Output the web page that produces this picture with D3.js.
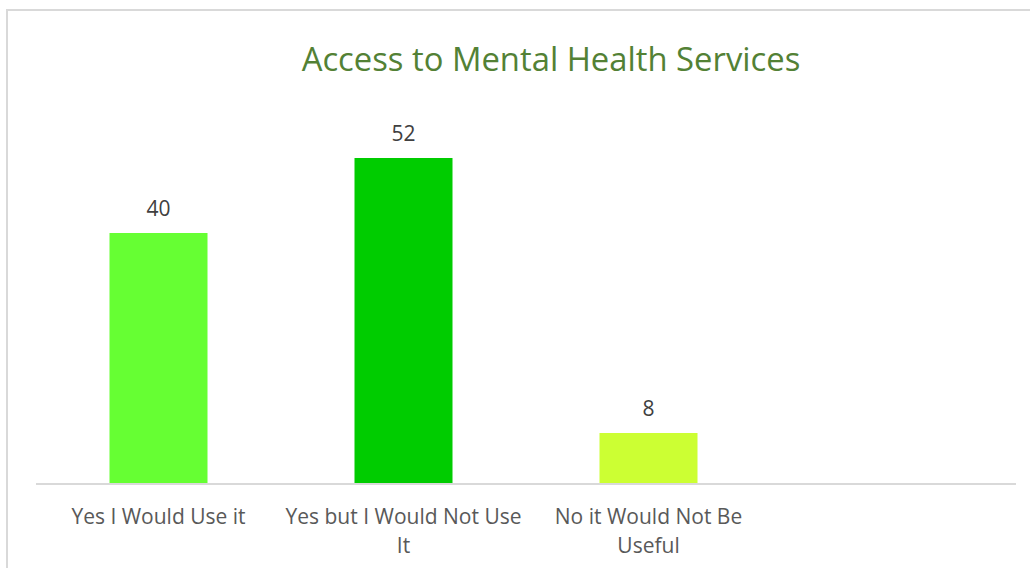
<!DOCTYPE html>
<html>
<head>
<meta charset="utf-8">
<script src="https://cdn.jsdelivr.net/npm/d3@7"></script>
<style>
  body { margin: 0; background: #fff; }
  text { font-family: "Open Sans", sans-serif; }
</style>
</head>
<body>
<div id="chart"></div>
<script>
// data
var categories = ["Yes I Would Use it", "Yes but I Would Not Use It", "No it Would Not Be Useful", ""];
var tickLines = [["Yes I Would Use it"], ["Yes but I Would Not Use", "It"], ["No it Would Not Be", "Useful"], []];
var values = [40, 52, 8];
var barColors = ["#66FF33", "#00CC00", "#CCFF33"];
var title = "Access to Mental Health Services";

var W = 1030, H = 568;
var baseY = 483;

var svg = d3.select("#chart")
  .append("svg")
    .attr("width", W)
    .attr("height", H);

// chart area border (cropped at right/bottom)
svg.append("rect")
    .attr("x", 7).attr("y", 10)
    .attr("width", W + 20).attr("height", H + 20)
    .attr("fill", "none")
    .attr("stroke", "#d9d9d9")
    .attr("stroke-width", 2);

// title
svg.append("text")
    .attr("x", 551)
    .attr("y", 71)
    .attr("text-anchor", "middle")
    .attr("fill", "#538135")
    .style("font-size", "32.8px")
    .text(title);

// scales
var x = d3.scaleBand()
    .domain(categories)
    .range([36, 1016])
    .paddingInner(0.6)
    .paddingOuter(0.3);

var y = d3.scaleLinear()
    .domain([0, 60])
    .range([baseY, 108]);

// bars
svg.append("g")
  .selectAll("rect")
  .data(values)
  .enter().append("rect")
    .attr("x", function(d, i) { return x(categories[i]); })
    .attr("y", function(d) { return y(d); })
    .attr("width", x.bandwidth())
    .attr("height", function(d) { return y(0) - y(d); })
    .attr("fill", function(d, i) { return barColors[i]; });

// value labels
svg.append("g")
  .selectAll("text")
  .data(values)
  .enter().append("text")
    .attr("x", function(d, i) { return x(categories[i]) + x.bandwidth() / 2; })
    .attr("y", function(d) { return y(d) - 17; })
    .attr("text-anchor", "middle")
    .attr("fill", "#404040")
    .style("font-size", "21px")
    .text(function(d) { return d; });

// x axis
var axis = svg.append("g")
    .attr("transform", "translate(0," + baseY + ")")
    .call(d3.axisBottom(x).tickSize(0).tickFormat(""));
axis.select(".domain").remove();
axis.append("line")
    .attr("x1", x.range()[0]).attr("x2", x.range()[1])
    .attr("y1", 1).attr("y2", 1)
    .attr("stroke", "#d9d9d9")
    .attr("stroke-width", 2);

// wrapped tick labels
axis.selectAll(".tick").each(function(d, i) {
  var t = d3.select(this).append("text")
      .attr("text-anchor", "middle")
      .attr("fill", "#595959")
      .style("font-size", "21px");
  tickLines[i].forEach(function(line, j) {
    t.append("tspan")
      .attr("x", 0)
      .attr("y", 41 + j * 29)
      .text(line);
  });
});
</script>
</body>
</html>
